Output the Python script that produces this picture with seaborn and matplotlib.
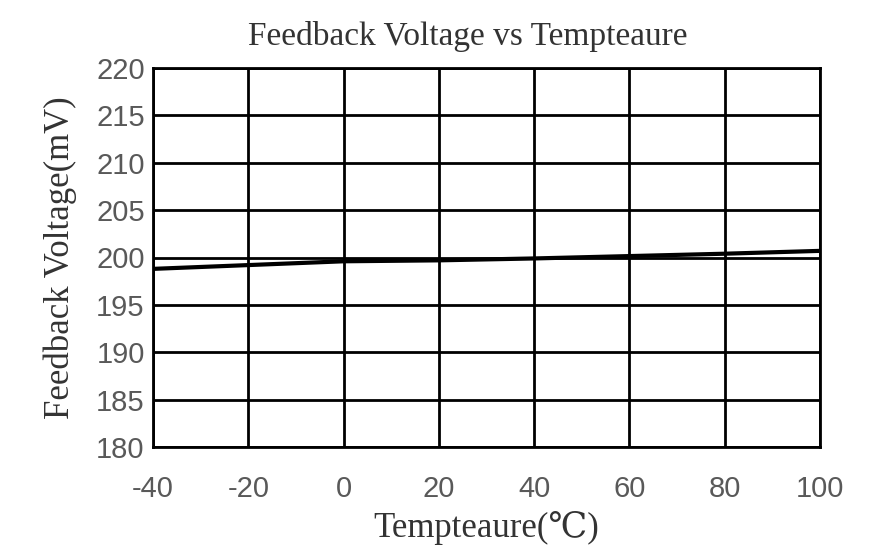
import matplotlib
matplotlib.use("Agg")
import matplotlib.pyplot as plt
import seaborn as sns
import pandas as pd

temps = [-40, -20, 0, 20, 40, 60, 80, 100]
voltage = [198.8, 199.2, 199.6, 199.7, 199.9, 200.15, 200.4, 200.7]
xticks = [-40, -20, 0, 20, 40, 60, 80, 100]
yticks = [180, 185, 190, 195, 200, 205, 210, 215, 220]

sns.set_style("white")
plt.rcParams['font.family'] = ['Liberation Sans', 'DejaVu Sans']
plt.rcParams['axes.unicode_minus'] = False
df = pd.DataFrame({"t": temps, "v": voltage})

fig = plt.figure(figsize=(8.83, 5.6), dpi=100)
ax = fig.add_axes([153/883, 1-447/560, 667/883, 379/560])
sns.lineplot(data=df, x="t", y="v", ax=ax, color="black", linewidth=3)
ax.set_xlim(-40, 100)
ax.set_ylim(180, 220)
ax.set_xticks(xticks)
ax.set_yticks(yticks)
ax.grid(True, color="black", linewidth=2)
for s in ax.spines.values():
    s.set_color("black"); s.set_linewidth(2)
ax.tick_params(axis="both", labelsize=21, labelcolor="#595959", length=0)
ax.tick_params(axis="x", pad=20)
ax.tick_params(axis="y", pad=6)
serif = ['Liberation Serif', 'DejaVu Serif']
ax.set_xlabel("Tempteaure(℃)", fontsize=25, family=serif, color="#333333", labelpad=6)
ax.set_ylabel("Feedback Voltage(mV)", fontsize=25, family=serif, color="#333333", labelpad=14)
fig.text(0.53, 0.92, "Feedback Voltage vs Tempteaure", ha="center", fontsize=24, family=serif, color="#333333")
fig.savefig("out.png", dpi=100)
